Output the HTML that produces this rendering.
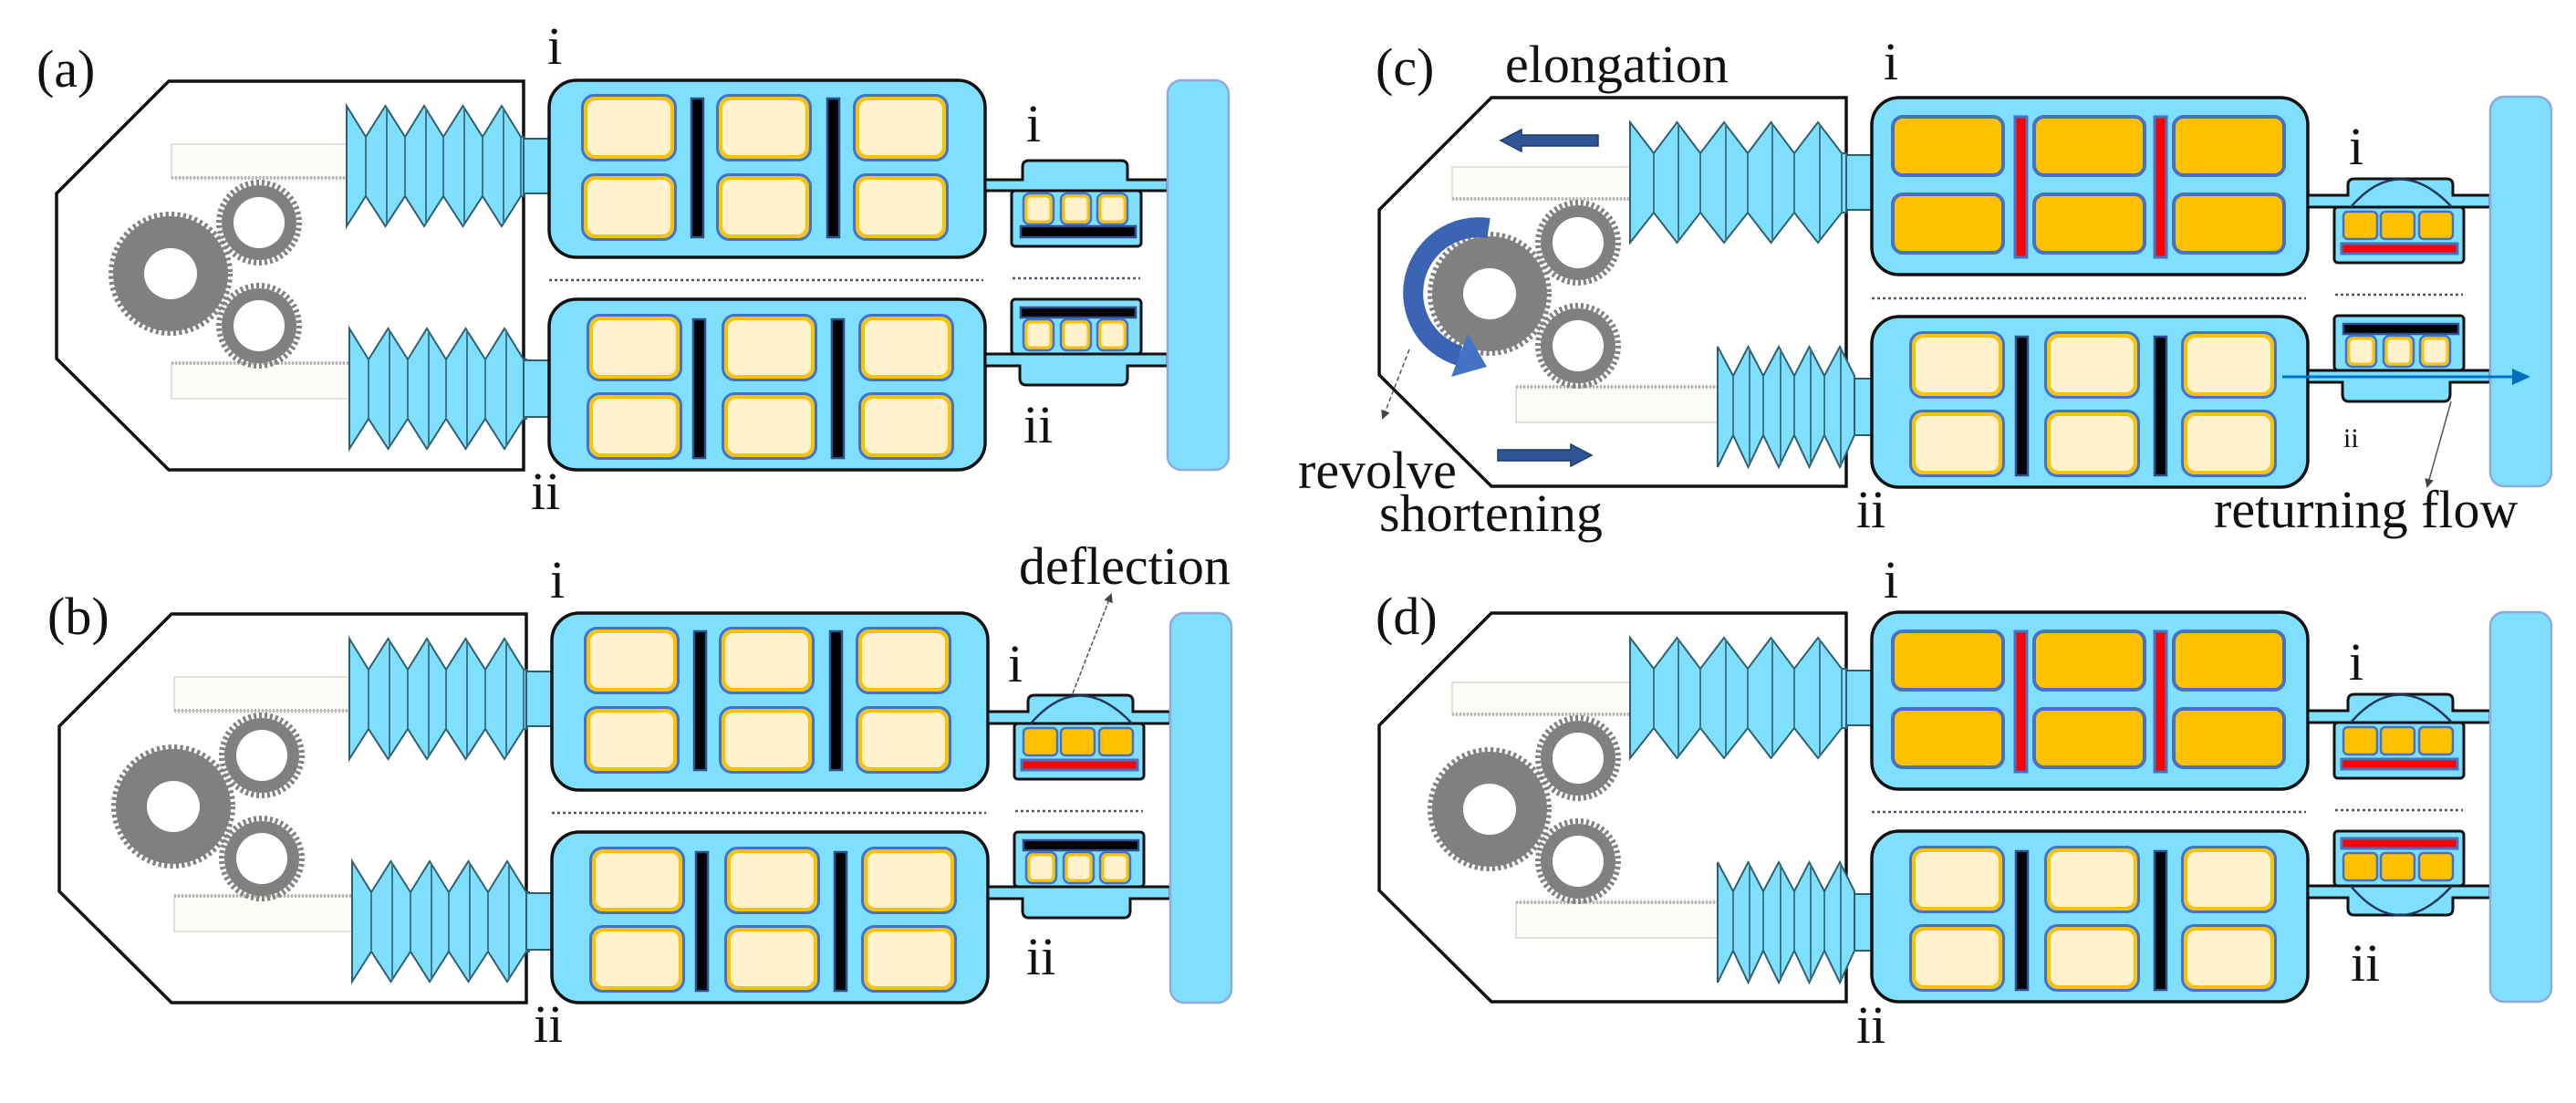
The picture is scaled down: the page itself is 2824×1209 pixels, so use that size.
<!DOCTYPE html>
<html><head><meta charset="utf-8"><style>
html,body{margin:0;padding:0;background:#fff;}
svg{display:block;}
text{font-family:"Liberation Serif",serif;fill:#111;}
</style></head><body>
<svg width="2824" height="1209" viewBox="0 0 2824 1209" xmlns="http://www.w3.org/2000/svg">
<defs>
  <marker id="ah" markerWidth="10" markerHeight="10" refX="8" refY="5" orient="auto" markerUnits="userSpaceOnUse">
    <path d="M0,0 L10,5 L0,10 Z" fill="#444"/>
  </marker>
  <marker id="bh" markerWidth="22" markerHeight="22" refX="16" refY="11" orient="auto" markerUnits="userSpaceOnUse">
    <path d="M0,2 L20,11 L0,20 Z" fill="#0070c0"/>
  </marker>

  <g id="gears">
    <g transform="translate(187,300)">
      <circle r="63" fill="#808080"/>
      <circle r="65" fill="none" stroke="#808080" stroke-width="6" stroke-dasharray="3.2 3.2"/>
      <ellipse rx="29" ry="28" fill="#fff"/>
    </g>
    <g transform="translate(284,244)">
      <circle r="41" fill="#808080"/>
      <circle r="44" fill="none" stroke="#808080" stroke-width="6" stroke-dasharray="3 3"/>
      <circle r="28" fill="#fff"/>
    </g>
    <g transform="translate(284,357)">
      <circle r="41" fill="#808080"/>
      <circle r="44" fill="none" stroke="#808080" stroke-width="6" stroke-dasharray="3 3"/>
      <circle r="28" fill="#fff"/>
    </g>
  </g>

  <polygon id="housing" points="185,89 574,89 574,515 185,515 62,393 62,212" fill="#fff" stroke="#111" stroke-width="3.5"/>

  <g id="bellowsA">
    <path d="M380,116 L401,150 L422.5,116 L444,150 L465,116 L486,150 L507.5,116 L529,150 L550,116 L571,150 L574,150 V215 L571,215 L550,248 L529,215 L507.5,248 L486,215 L465,248 L444,215 L422.5,248 L401,215 L380,248 Z" fill="#7fdfff" stroke="#2f6070" stroke-width="2"/>
    <g stroke="#3d7888" stroke-width="2">
      <line x1="401" y1="150" x2="401" y2="215"/><line x1="444" y1="150" x2="444" y2="215"/><line x1="486" y1="150" x2="486" y2="215"/><line x1="529" y1="150" x2="529" y2="215"/><line x1="571" y1="150" x2="571" y2="215"/>
      <line x1="424" y1="118" x2="424" y2="246"/><line x1="467" y1="118" x2="467" y2="246"/><line x1="509" y1="118" x2="509" y2="246"/><line x1="552" y1="118" x2="552" y2="246"/>
    </g>
  </g>

  <g id="panelA">
    <use href="#housing"/>
    <rect x="188" y="158" width="192" height="37" fill="#fdfdf8" stroke="#d8d8d0" stroke-width="1.5"/>
    <line x1="188" y1="195" x2="380" y2="195" stroke="#b8b8b8" stroke-width="4" stroke-dasharray="2 2"/>
    <rect x="188" y="398" width="195" height="39" fill="#fdfdf8" stroke="#d8d8d0" stroke-width="1.5"/>
    <line x1="188" y1="398" x2="383" y2="398" stroke="#b8b8b8" stroke-width="4" stroke-dasharray="2 2"/>
    <use href="#gears"/>
    <use href="#bellowsA"/>
    <use href="#bellowsA" transform="translate(3,244)"/>
    <rect x="574" y="152" width="28" height="60" fill="#7fdfff" stroke="#2f6070" stroke-width="2"/>
    <rect x="574" y="395" width="28" height="62" fill="#7fdfff" stroke="#2f6070" stroke-width="2"/>
  </g>

  <g id="panelC">
    <use href="#housing"/>
    <rect x="142" y="165" width="195" height="35" fill="#fdfdf8" stroke="#d8d8d0" stroke-width="1.5"/>
    <line x1="142" y1="200" x2="337" y2="200" stroke="#b8b8b8" stroke-width="4" stroke-dasharray="2 2"/>
    <rect x="212" y="406" width="221" height="39" fill="#fdfdf8" stroke="#d8d8d0" stroke-width="1.5"/>
    <line x1="212" y1="406" x2="433" y2="406" stroke="#b8b8b8" stroke-width="4" stroke-dasharray="2 2"/>
    <use href="#gears" transform="translate(-4,4)"/>
    <path d="M337,116 L363,150 L388.5,116 L414,150 L440,116 L466,150 L491.5,116 L517,150 L543,116 L569,150 L574,150 V215 L569,215 L543,248 L517,215 L491.5,248 L466,215 L440,248 L414,215 L388.5,248 L363,215 L337,248 Z" fill="#7fdfff" stroke="#2f6070" stroke-width="2"/>
    <g stroke="#3d7888" stroke-width="2">
      <line x1="363" y1="150" x2="363" y2="215"/><line x1="414" y1="150" x2="414" y2="215"/><line x1="466" y1="150" x2="466" y2="215"/><line x1="517" y1="150" x2="517" y2="215"/><line x1="569" y1="150" x2="569" y2="215"/>
      <line x1="390" y1="118" x2="390" y2="246"/><line x1="442" y1="118" x2="442" y2="246"/><line x1="493" y1="118" x2="493" y2="246"/><line x1="545" y1="118" x2="545" y2="246"/>
    </g>
    <path d="M433,362 L450,394 L466.5,362 L483,394 L500,362 L517,394 L533.5,362 L550,394 L567,362 L583,394 V459 L567,494 L550,459 L533.5,494 L517,459 L500,494 L483,459 L466.5,494 L450,459 L433,494 Z" fill="#7fdfff" stroke="#2f6070" stroke-width="2"/>
    <g stroke="#3d7888" stroke-width="2">
      <line x1="450" y1="394" x2="450" y2="459"/><line x1="483" y1="394" x2="483" y2="459"/><line x1="517" y1="394" x2="517" y2="459"/><line x1="550" y1="394" x2="550" y2="459"/>
      <line x1="468" y1="364" x2="468" y2="492"/><line x1="502" y1="364" x2="502" y2="492"/><line x1="535" y1="364" x2="535" y2="492"/><line x1="568" y1="364" x2="568" y2="492"/>
    </g>
    <rect x="574" y="152" width="28" height="60" fill="#7fdfff" stroke="#2f6070" stroke-width="2"/>
    <rect x="583" y="397" width="19" height="62" fill="#7fdfff" stroke="#2f6070" stroke-width="2"/>
  </g>

  <g id="cb"><rect width="95" height="64" rx="11" fill="#fff2cc" stroke="#ffc000" stroke-width="4"/><rect x="-3.5" y="-3.5" width="102" height="71" rx="13" fill="none" stroke="#4472c4" stroke-width="3"/></g>
  <g id="co"><rect width="121" height="64" rx="11" fill="#ffc000" stroke="#4472c4" stroke-width="4"/></g>
  <rect id="barK" width="13" height="152" fill="#000" stroke="#2f4f8f" stroke-width="2.5"/>
  <rect id="barR" width="13" height="154" fill="#ff0000" stroke="#4472c4" stroke-width="3"/>

  <g id="boxBeigeTop">
    <rect x="602" y="88" width="478" height="194" rx="30" fill="#7fdfff" stroke="#111" stroke-width="3.5"/>
    <use href="#cb" x="642" y="108"/><use href="#cb" x="790" y="108"/><use href="#cb" x="940" y="108"/>
    <use href="#cb" x="642" y="195"/><use href="#cb" x="790" y="195"/><use href="#cb" x="940" y="195"/>
    <use href="#barK" x="758" y="108"/><use href="#barK" x="907" y="108"/>
  </g>
  <g id="boxOrangeTop">
    <rect x="602" y="88" width="478" height="194" rx="30" fill="#7fdfff" stroke="#111" stroke-width="3.5"/>
    <use href="#co" x="625" y="109"/><use href="#co" x="780" y="109"/><use href="#co" x="933" y="109"/>
    <use href="#co" x="625" y="194"/><use href="#co" x="780" y="194"/><use href="#co" x="933" y="194"/>
    <use href="#barR" x="759" y="109"/><use href="#barR" x="912" y="109"/>
  </g>
  <g id="boxBeigeBot">
    <rect x="602" y="328" width="478" height="187" rx="30" fill="#7fdfff" stroke="#111" stroke-width="3.5"/>
    <use href="#cb" x="648" y="349"/><use href="#cb" x="796" y="349"/><use href="#cb" x="946" y="349"/>
    <use href="#cb" x="648" y="435"/><use href="#cb" x="796" y="435"/><use href="#cb" x="946" y="435"/>
    <use href="#barK" x="760" y="350"/><use href="#barK" x="912" y="350"/>
  </g>
  <line id="sepL" x1="602" y1="307" x2="1078" y2="307" stroke="#556" stroke-width="2.5" stroke-dasharray="3 3"/>
  <line id="sepR" x1="1110" y1="305" x2="1250" y2="305" stroke="#556" stroke-width="2.5" stroke-dasharray="3 3"/>
  <rect id="pad" x="1280" y="88" width="67" height="427" rx="15" fill="#7fdfff" stroke="#8eaadb" stroke-width="2.5"/>

  <g id="sc"><rect width="27" height="28" rx="5" fill="#fff2cc" stroke="#ffc000" stroke-width="3"/><rect x="-3" y="-3" width="33" height="34" rx="7" fill="none" stroke="#4472c4" stroke-width="2.5"/></g>
  <g id="so"><rect width="37" height="30" rx="5" fill="#ffc000" stroke="#4472c4" stroke-width="2.5"/></g>

  <g id="devTopN">
    <path d="M1080,197 H1121 V183 Q1121,176 1128,176 H1229 Q1236,176 1236,183 V197 H1280 V209 H1080 Z" fill="#7fdfff" stroke="#111" stroke-width="3"/>
    <rect x="1109" y="209" width="142" height="61" rx="4" fill="#7fdfff" stroke="#111" stroke-width="3"/>
    <use href="#sc" x="1125" y="215"/><use href="#sc" x="1166" y="215"/><use href="#sc" x="1206" y="215"/>
    <rect x="1119" y="248" width="126" height="12" fill="#000" stroke="#2f4f8f" stroke-width="2.5"/>
  </g>
  <g id="devBotN">
    <rect x="1109" y="328" width="142" height="60" rx="4" fill="#7fdfff" stroke="#111" stroke-width="3"/>
    <rect x="1119" y="337" width="126" height="11" fill="#000" stroke="#2f4f8f" stroke-width="2.5"/>
    <use href="#sc" x="1125" y="353"/><use href="#sc" x="1166" y="353"/><use href="#sc" x="1206" y="353"/>
    <path d="M1080,388 H1280 V401 H1236 V414 Q1236,422 1229,422 H1125 Q1118,422 1118,414 V401 H1080 Z" fill="#7fdfff" stroke="#111" stroke-width="3"/>
  </g>
  <g id="devTopD">
    <path d="M1080,196 H1124 V185 Q1124,178 1131,178 H1232 Q1239,178 1239,185 V196 H1280 V209 H1080 Z" fill="#7fdfff" stroke="#111" stroke-width="3"/>
    <rect x="1109" y="209" width="142" height="61" rx="4" fill="#7fdfff" stroke="#111" stroke-width="3"/>
    <path d="M1127,209 Q1180,148 1238,209" fill="none" stroke="#1f3a5a" stroke-width="2.5"/>
    <use href="#so" x="1119" y="214"/><use href="#so" x="1160" y="214"/><use href="#so" x="1202" y="214"/>
    <rect x="1117" y="249" width="127" height="11" fill="#ff0000" stroke="#4472c4" stroke-width="3"/>
  </g>
  <g id="devBotD">
    <rect x="1109" y="328" width="142" height="60" rx="4" fill="#7fdfff" stroke="#111" stroke-width="3"/>
    <rect x="1117" y="336" width="127" height="11" fill="#ff0000" stroke="#4472c4" stroke-width="3"/>
    <use href="#so" x="1119" y="352"/><use href="#so" x="1160" y="352"/><use href="#so" x="1202" y="352"/>
    <path d="M1080,388 H1280 V401 H1239 V413 Q1239,420 1232,420 H1131 Q1124,420 1124,413 V401 H1080 Z" fill="#7fdfff" stroke="#111" stroke-width="3"/>
    <path d="M1127,388 Q1180,452 1238,388" fill="none" stroke="#1f3a5a" stroke-width="2.5"/>
  </g>
</defs>

<!-- Panel (a) -->
<g>
  <use href="#panelA"/>
  <use href="#boxBeigeTop"/><use href="#boxBeigeBot"/><use href="#sepL"/>
  <use href="#devTopN"/><use href="#devBotN"/><use href="#sepR"/><use href="#pad"/>
</g>
<!-- Panel (b) -->
<g transform="translate(3,584)">
  <use href="#panelA"/>
  <use href="#boxBeigeTop"/><use href="#boxBeigeBot"/><use href="#sepL"/>
  <use href="#devTopD"/><use href="#devBotN"/><use href="#sepR"/><use href="#pad"/>
</g>
<!-- Panel (c) -->
<g transform="translate(1450,18)">
  <use href="#panelC"/>
  <use href="#boxOrangeTop" transform="translate(0,1)"/><use href="#boxBeigeBot" transform="translate(0,1)"/><use href="#sepL" transform="translate(0,2)"/>
  <use href="#devTopD"/><use href="#devBotN"/><use href="#sepR"/><use href="#pad"/>
</g>
<!-- Panel (d) -->
<g transform="translate(1450,583)">
  <use href="#panelC"/>
  <use href="#boxOrangeTop"/><use href="#boxBeigeBot"/><use href="#sepL"/>
  <use href="#devTopD"/><use href="#devBotD"/><use href="#sepR"/><use href="#pad"/>
</g>

<!-- panel c extras -->
<path d="M1752,148 H1668 V142 L1645,154 L1668,166 V160 H1752 Z" fill="#2f5597" stroke="#1f3a6a" stroke-width="1.5"/>
<path d="M1642,493 H1722 V487 L1745,499 L1722,511 V505 H1642 Z" fill="#2f5597" stroke="#1f3a6a" stroke-width="1.5"/>
<path d="M1632,250 A72 72 0 0 0 1600,390" fill="none" stroke="#3b64b4" stroke-width="22"/>
<polygon points="1630,402 1591,413 1609,366" fill="#4472c4"/>
<line x1="1545" y1="383" x2="1516" y2="458" stroke="#555" stroke-width="1.5" stroke-dasharray="5 3" marker-end="url(#ah)"/>
<line x1="2502" y1="413" x2="2770" y2="413" stroke="#0070c0" stroke-width="3" marker-end="url(#bh)"/>
<line x1="2687" y1="440" x2="2661" y2="533" stroke="#555" stroke-width="1.5" marker-end="url(#ah)"/>
<!-- panel b deflection arrow -->
<line x1="1176" y1="760" x2="1218" y2="652" stroke="#555" stroke-width="1.5" stroke-dasharray="5 2" marker-end="url(#ah)"/>

<!-- labels -->
<g font-size="58">
<text x="40" y="95">(a)</text>
<text x="52" y="695">(b)</text>
<text x="1508" y="93">(c)</text>
<text x="1508" y="695">(d)</text>
<text x="600" y="70">i</text>
<text x="582" y="558">ii</text>
<text x="603" y="655">i</text>
<text x="585" y="1142">ii</text>
<text x="2065" y="87">i</text>
<text x="2035" y="578">ii</text>
<text x="2065" y="655">i</text>
<text x="2035" y="1143">ii</text>
<text x="1125" y="155">i</text>
<text x="1122" y="485">ii</text>
<text x="1105" y="747">i</text>
<text x="1125" y="1068">ii</text>
<text x="2575" y="180">i</text>
<text x="2575" y="745">i</text>
<text x="2577" y="1075">ii</text>
<text x="1117" y="640">deflection</text>
<text x="1650" y="90">elongation</text>
<text x="1423" y="535">revolve</text>
<text x="1512" y="582">shortening</text>
<text x="2427" y="578">returning flow</text>
</g>
<text x="2569" y="490" font-size="30">ii</text>
</svg>
</body></html>
